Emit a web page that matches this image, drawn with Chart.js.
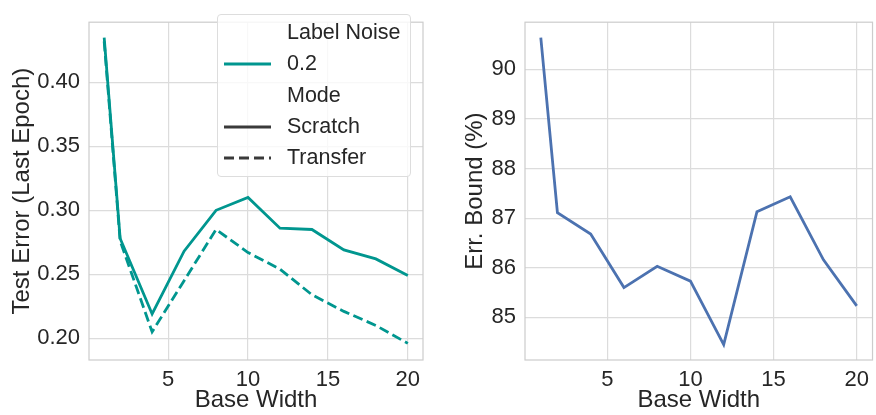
<!DOCTYPE html>
<html>
<head>
<meta charset="utf-8">
<script src="https://cdn.jsdelivr.net/npm/chart.js@4"></script>
<style>
  body { margin: 0; background: #fff; font-family: "Liberation Sans", Arial, sans-serif; }
  #wrap { position: relative; width: 876px; height: 415px; }
  #c1 { position: absolute; left: 0; top: 0; }
  #c2 { position: absolute; left: 440px; top: 0; }
  #legend {
    position: absolute; left: 217px; top: 14px; width: 194px; height: 163px;
    border: 1px solid #dddddd; border-radius: 4px; background: rgba(255,255,255,0.8);
    color: #262626; font-size: 21.5px; box-sizing: border-box;
  }
  .row { position: absolute; left: 0; height: 30px; line-height: 30px; width: 100%; }
  .row span { position: absolute; left: 69px; }
  .row svg { position: absolute; left: 6px; top: 14px; }
</style>
</head>
<body>
<div id="wrap">
  <canvas id="c1" width="440" height="415"></canvas>
  <canvas id="c2" width="436" height="415"></canvas>
  <div id="legend">
    <div class="row" style="top:2px"><span>Label Noise</span></div>
    <div class="row" style="top:33px"><svg width="50" height="4"><line x1="0" y1="2" x2="47" y2="2" stroke="#00968f" stroke-width="2.8"/></svg><span>0.2</span></div>
    <div class="row" style="top:65px"><span>Mode</span></div>
    <div class="row" style="top:96px"><svg width="50" height="4"><line x1="0" y1="2" x2="47" y2="2" stroke="#3a3a3a" stroke-width="2.8"/></svg><span>Scratch</span></div>
    <div class="row" style="top:127px"><svg width="50" height="4"><line x1="0" y1="2" x2="47" y2="2" stroke="#3a3a3a" stroke-width="2.8" stroke-dasharray="10,5"/></svg><span>Transfer</span></div>
  </div>
</div>
<script>
// data
const widths = [1, 2, 4, 6, 8, 10, 12, 14, 16, 18, 20];
const scratchErr = [0.435, 0.278, 0.219, 0.268, 0.300, 0.310, 0.286, 0.285, 0.269, 0.262, 0.249];
const transferErr = [0.432, 0.276, 0.205, 0.245, 0.285, 0.267, 0.254, 0.234, 0.221, 0.210, 0.196];
const errBound = [90.64, 87.11, 86.68, 85.60, 86.03, 85.73, 84.45, 87.13, 87.43, 86.16, 85.23];
const xTicks = [5, 10, 15, 20];
const leftTicks = [0.20, 0.25, 0.30, 0.35, 0.40];
const rightTicks = [85, 86, 87, 88, 89, 90];

const TEAL = '#00968f';
const BLUE = '#4c72b0';
const GRID = '#dcdcdc';
const TXT = '#262626';
const FONT = "'Liberation Sans', Arial, sans-serif";

const pts = (ys) => widths.map((x, i) => ({ x: x, y: ys[i] }));

const frame = {
    id: 'frame',
    afterDraw(chart) {
        const a = chart.chartArea, ctx = chart.ctx;
        ctx.save();
        ctx.strokeStyle = '#cccccc';
        ctx.lineWidth = 1.2;
        ctx.strokeRect(a.left, a.top, a.right - a.left, a.bottom - a.top);
        ctx.restore();
    }
};

function makeOptions(yTicks, yMin, yMax, yTitle, yWidth, titlePad, fmt) {
    return {
        responsive: false,
        animation: false,
        layout: { padding: { top: 4, right: 0, left: 0, bottom: 0 } },
        plugins: { legend: { display: false }, tooltip: { enabled: false } },
        elements: { point: { radius: 0 }, line: { tension: 0, borderWidth: 2.8 } },
        scales: {
            x: {
                type: 'linear', min: 0.05, max: 20.95,
                afterBuildTicks: (s) => { s.ticks = xTicks.map(v => ({ value: v })); },
                afterFit: (s) => { s.height = 55; },
                grid: { color: GRID, lineWidth: 1.2, drawTicks: false },
                border: { display: false },
                ticks: { color: TXT, font: { family: FONT, size: 22 }, padding: 7, maxRotation: 0, autoSkip: false },
                title: { display: true, text: 'Base Width', color: TXT, font: { family: FONT, size: 24 }, padding: { top: 0, bottom: 0 } }
            },
            y: {
                min: yMin, max: yMax,
                afterBuildTicks: (s) => { s.ticks = yTicks.map(v => ({ value: v })); },
                afterFit: (s) => { s.width = yWidth; },
                grid: { color: GRID, lineWidth: 1.2, drawTicks: false },
                border: { display: false },
                ticks: { color: TXT, font: { family: FONT, size: 22 }, padding: 9, callback: fmt, autoSkip: false },
                title: { display: true, text: yTitle, color: TXT, font: { family: FONT, size: 24 }, padding: { top: titlePad, bottom: 0 } }
            }
        }
    };
}

const leftOpts = makeOptions(leftTicks, 0.183, 0.447, 'Test Error (Last Epoch)', 89, 8, (v) => v.toFixed(2));
leftOpts.layout.padding.right = 17;
new Chart(document.getElementById('c1'), {
    type: 'line',
    data: {
        datasets: [
            { label: 'Scratch', data: pts(scratchErr), borderColor: TEAL },
            { label: 'Transfer', data: pts(transferErr), borderColor: TEAL, borderDash: [10, 4.5] }
        ]
    },
    options: leftOpts,
    plugins: [frame]
});

const rightOpts = makeOptions(rightTicks, 84.14, 90.95, 'Err. Bound (%)', 85, 21, (v) => String(v));
rightOpts.layout.padding.right = 1;
new Chart(document.getElementById('c2'), {
    type: 'line',
    data: {
        datasets: [
            { label: 'Err. Bound', data: pts(errBound), borderColor: BLUE }
        ]
    },
    options: rightOpts,
    plugins: [frame]
});
</script>
</body>
</html>
